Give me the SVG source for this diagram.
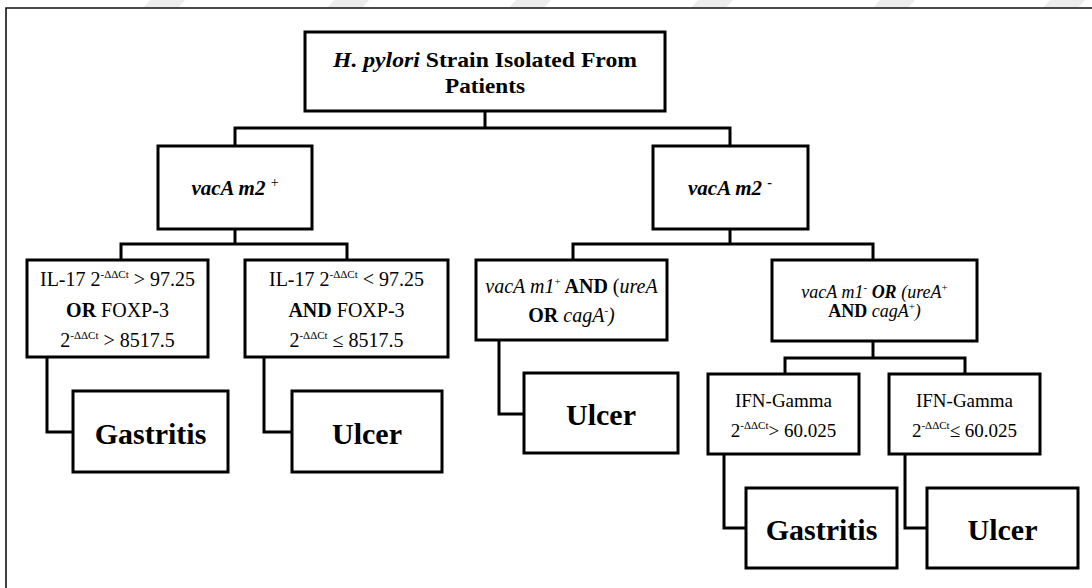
<svg xmlns="http://www.w3.org/2000/svg" width="1092" height="588" viewBox="0 0 1092 588">
  <style>
    .box{fill:#fff;stroke:#000;stroke-width:3}
    .ln{fill:none;stroke:#000;stroke-width:3;stroke-linejoin:miter}
    .frame{fill:none;stroke:#111;stroke-width:1.6}
    .t{font-family:"Liberation Serif","Times New Roman",serif;fill:#000;text-anchor:middle}
    .b{font-weight:bold}
    .i{font-style:italic}
    .sup{font-size:11px}
    .big{font-size:30px;font-weight:bold}
    .mark{fill:#ececec}
  </style>

  <rect width="1092" height="588" fill="#fff"/>

  <!-- faint background stripes along the top margin -->
  <g id="stripes">
    <polygon class="mark" points="150,0 185,0 178,8 143,8"/>
    <polygon class="mark" points="334,0 369,0 362,8 327,8"/>
    <polygon class="mark" points="516,0 551,0 544,8 509,8"/>
    <polygon class="mark" points="698,0 733,0 726,8 691,8"/>
    <polygon class="mark" points="880,0 915,0 908,8 873,8"/>
    <polygon class="mark" points="1050,0 1085,0 1078,8 1043,8"/>
  </g>

  <!-- page frame -->
  <path class="frame" d="M6,588 V8 H1092"/>

  <!-- connectors -->
  <g id="connectors">
    <path class="ln" d="M485,111 V128"/>
    <path class="ln" d="M235,146 V128 H730 V146"/>
    <path class="ln" d="M235,229 V244"/>
    <path class="ln" d="M121,260 V244 H347 V260"/>
    <path class="ln" d="M730,229 V244"/>
    <path class="ln" d="M573,260 V244 H873 V260"/>
    <path class="ln" d="M873,341 V358"/>
    <path class="ln" d="M785,374 V358 H965 V374"/>
    <path class="ln" d="M47,357 V432 H73"/>
    <path class="ln" d="M264,357 V432 H292"/>
    <path class="ln" d="M499,340 V414 H524"/>
    <path class="ln" d="M724,454 V528 H746"/>
    <path class="ln" d="M905,454 V528 H927"/>
  </g>

  <!-- root -->
  <g id="root">
    <rect class="box" x="305" y="32" width="360" height="79"/>
    <text class="t b" x="485" y="67" font-size="22" textLength="304" lengthAdjust="spacingAndGlyphs"><tspan class="i">H. pylori</tspan> Strain Isolated From</text>
    <text class="t b" x="485" y="93" font-size="22" textLength="80" lengthAdjust="spacingAndGlyphs">Patients</text>
  </g>

  <g id="m2-positive">
    <rect class="box" x="158" y="146" width="154" height="83"/>
    <text class="t" x="235" y="195" font-size="21"><tspan class="b i">vacA m2 </tspan><tspan font-size="14" dy="-8">+</tspan></text>
  </g>

  <g id="m2-negative">
    <rect class="box" x="653" y="146" width="155" height="83"/>
    <text class="t" x="730" y="195" font-size="21"><tspan class="b i">vacA m2 </tspan><tspan class="b" font-size="14" dy="-8">-</tspan></text>
  </g>

  <g id="il17-high">
    <rect class="box" x="27" y="260" width="181" height="97"/>
    <text class="t" x="117.5" y="286" font-size="20">IL-17 2<tspan class="sup" dy="-8">-ΔΔCt</tspan><tspan dy="8"> &gt; 97.25</tspan></text>
    <text class="t" x="117.5" y="317" font-size="20"><tspan class="b">OR</tspan> FOXP-3</text>
    <text class="t" x="117.5" y="347" font-size="20">2<tspan class="sup" dy="-8">-ΔΔCt</tspan><tspan dy="8"> &gt; 8517.5</tspan></text>
  </g>

  <g id="il17-low">
    <rect class="box" x="245" y="260" width="203" height="97"/>
    <text class="t" x="346.5" y="286" font-size="20">IL-17 2<tspan class="sup" dy="-8">-ΔΔCt</tspan><tspan dy="8"> &lt; 97.25</tspan></text>
    <text class="t" x="346.5" y="317" font-size="20"><tspan class="b">AND</tspan> FOXP-3</text>
    <text class="t" x="346.5" y="347" font-size="20">2<tspan class="sup" dy="-8">-ΔΔCt</tspan><tspan dy="8"> ≤  8517.5</tspan></text>
  </g>

  <g id="m1-positive">
    <rect class="box" x="476" y="260" width="191" height="80"/>
    <text class="t" x="571.5" y="293" font-size="20"><tspan class="i">vacA m1</tspan><tspan class="sup" dy="-8">+</tspan><tspan class="b" dy="8"> AND </tspan>(<tspan class="i">ureA</tspan></text>
    <text class="t" x="571.5" y="322" font-size="20"><tspan class="b">OR</tspan><tspan class="i"> cagA</tspan><tspan class="sup" dy="-8">-</tspan><tspan class="i" dy="8">)</tspan></text>
  </g>

  <g id="m1-negative">
    <rect class="box" x="772" y="260" width="205" height="81"/>
    <text class="t" x="874.5" y="298" font-size="18"><tspan class="i">vacA m1</tspan><tspan class="sup" dy="-7">-</tspan><tspan class="b i" dy="7"> OR</tspan><tspan class="i"> (ureA</tspan><tspan class="sup" dy="-7">+</tspan></text>
    <text class="t" x="874.5" y="317" font-size="18"><tspan class="b">AND</tspan><tspan class="i"> cagA</tspan><tspan class="sup" dy="-7">+</tspan><tspan class="i" dy="7">)</tspan></text>
  </g>

  <g id="gastritis-1">
    <rect class="box" x="73" y="391" width="155" height="81"/>
    <text class="t big" x="150.5" y="444">Gastritis</text>
  </g>

  <g id="ulcer-1">
    <rect class="box" x="292" y="391" width="150" height="81"/>
    <text class="t big" x="367" y="444">Ulcer</text>
  </g>

  <g id="ulcer-2">
    <rect class="box" x="524" y="373" width="154" height="80"/>
    <text class="t big" x="601" y="425">Ulcer</text>
  </g>

  <g id="ifn-high">
    <rect class="box" x="708" y="374" width="151" height="80"/>
    <text class="t" x="783.5" y="407" font-size="19">IFN-Gamma</text>
    <text class="t" x="783.5" y="437" font-size="19">2<tspan class="sup" dy="-8">-ΔΔCt</tspan><tspan dy="8">&gt; 60.025</tspan></text>
  </g>

  <g id="ifn-low">
    <rect class="box" x="889" y="374" width="151" height="80"/>
    <text class="t" x="964.5" y="407" font-size="19">IFN-Gamma</text>
    <text class="t" x="964.5" y="437" font-size="19">2<tspan class="sup" dy="-8">-ΔΔCt</tspan><tspan dy="8">≤ 60.025</tspan></text>
  </g>

  <g id="gastritis-2">
    <rect class="box" x="746" y="488" width="151" height="80"/>
    <text class="t big" x="821.5" y="540">Gastritis</text>
  </g>

  <g id="ulcer-3">
    <rect class="box" x="927" y="488" width="151" height="80"/>
    <text class="t big" x="1002.5" y="540">Ulcer</text>
  </g>
</svg>
